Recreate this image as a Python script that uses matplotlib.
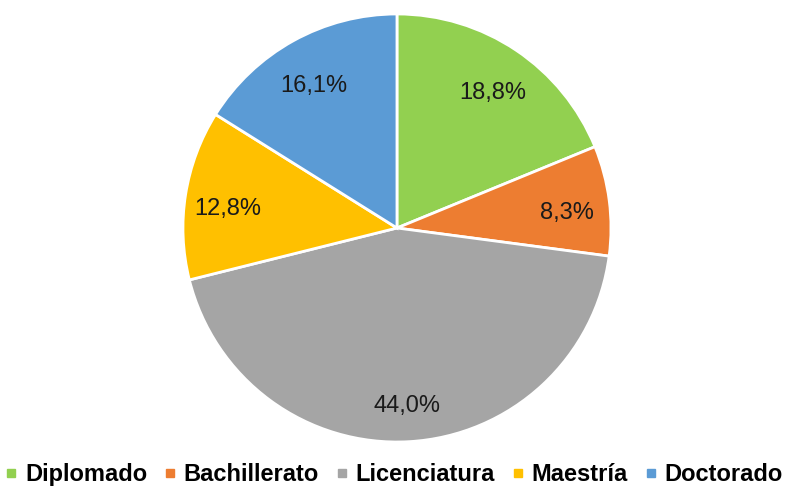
import matplotlib
matplotlib.use("Agg")
import matplotlib.pyplot as plt
import matplotlib.transforms as mtransforms
from matplotlib.lines import Line2D

plt.rcParams['font.family'] = ['Liberation Sans', 'DejaVu Sans']

categories = ["Diplomado", "Bachillerato", "Licenciatura", "Maestría", "Doctorado"]
values = [18.8, 8.3, 44.0, 12.8, 16.1]
labels = ["18,8%", "8,3%", "44,0%", "12,8%", "16,1%"]
colors = ["#92D050", "#ED7D31", "#A5A5A5", "#FFC000", "#5B9BD5"]

fig = plt.figure(figsize=(7.9, 4.87), dpi=100)
ax = fig.add_axes([0.2316, 0.0924, 0.5418, 0.8789])
wedges, texts = ax.pie(values, colors=colors, startangle=90, counterclock=False,
                       labels=labels, labeldistance=0.8,
                       wedgeprops=dict(edgecolor="white", linewidth=2),
                       textprops=dict(fontsize=17, color="#1a1a1a"))
shift = mtransforms.ScaledTranslation(0, -5 / 100, fig.dpi_scale_trans)
for t in texts:
    t.set_ha("center")
    t.set_va("center_baseline")
    t.set_transform(t.get_transform() + shift)
ax.set_xlim(-1.0, 1.0)
ax.set_ylim(-1.0, 1.0)
ax.set_aspect("equal")

handles = [Line2D([0], [0], marker="s", linestyle="none", markersize=6,
                  markerfacecolor=c, markeredgecolor=c) for c in colors]
fig.legend(handles, categories, loc="center", bbox_to_anchor=(0.5, 0.025), ncol=5,
           frameon=False, handlelength=0.35, handletextpad=0.4, columnspacing=0.8,
           prop=dict(size=17, weight="bold"), borderaxespad=0, borderpad=0)

fig.savefig("out.png", dpi=100)
